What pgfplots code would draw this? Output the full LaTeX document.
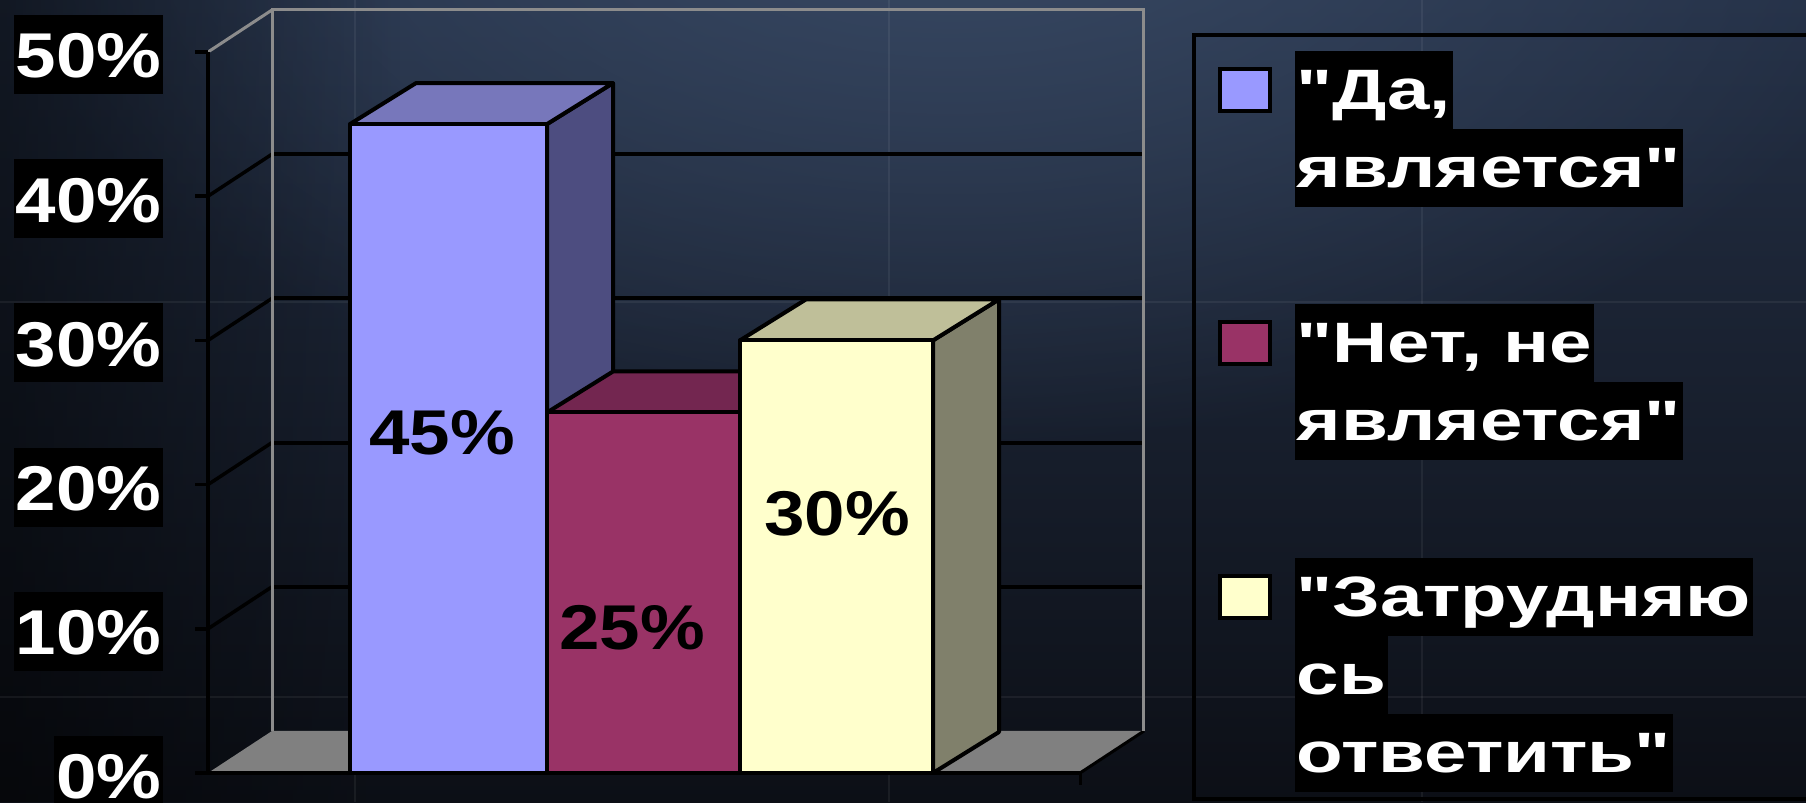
\documentclass[border=0pt]{standalone}
\usepackage{pgfplots}
\pgfplotsset{compat=1.18}
\usepackage{fontspec}
\setmainfont{Liberation Sans}
\newfontfamily\tickfont{Liberation Sans Bold}[FakeStretch=1.15]
\newfontfamily\legfont{Liberation Sans Bold}[FakeStretch=1.34]
\usetikzlibrary{fadings}
\tikzfading[name=myfade, inner color=transparent!0, outer color=transparent!100]
\definecolor{bgtop}{HTML}{243046}
\definecolor{bgbot}{HTML}{0C0F16}
\definecolor{hl}{HTML}{3A4B66}
\definecolor{aF}{HTML}{9999FF}\definecolor{aT}{HTML}{7777BB}\definecolor{aS}{HTML}{4D4D80}
\definecolor{bF}{HTML}{993366}\definecolor{bT}{HTML}{732650}\definecolor{bS}{HTML}{4D1A33}
\definecolor{cF}{HTML}{FFFFCC}\definecolor{cT}{HTML}{BFBF99}\definecolor{cS}{HTML}{80806B}
\definecolor{wallgrey}{HTML}{8C8C8C}
\definecolor{floorgrey}{HTML}{808080}
\tikzset{
  ticklab/.style={anchor=east, fill=black, text=white, font=\tickfont\fontsize{18}{20}\selectfont,
    inner xsep=0.2mm, inner ysep=0pt, text height=6.3mm, text depth=1.6mm},
  vallab/.style={text=black, font=\tickfont\fontsize{18}{20}\selectfont},
  legline/.style={anchor=north west, fill=black, text=white, font=\legfont\fontsize{16.2}{18}\selectfont,
    inner xsep=0.2mm, inner ysep=0pt, text height=5.9mm, text depth=1.9mm},
  legbox/.style={draw=black, line width=0.35mm}
}
\begin{document}
\begin{tikzpicture}
% ---------- slide background ----------
\begin{scope}[x=0.1mm,y=-0.1mm,shift={(0,80.2mm)}]
  \shade[top color=bgtop, bottom color=bgbot] (0,0) rectangle (1806,802);
  \fill[hl, path fading=myfade] (950,-150) ellipse (1000 and 600);
  \fill[black, opacity=0.5, path fading=east] (0,0) rectangle (400,802);
  \foreach \gx in {355,889,1422} \draw[white, opacity=0.06, line width=0.2mm] (\gx,0) -- (\gx,802);
  \foreach \gy in {302,697} \draw[white, opacity=0.06, line width=0.2mm] (0,\gy) -- (1806,\gy);
\end{scope}
% ---------- chart ----------
\begin{axis}[at={(0,0)}, anchor=south west, scale only axis,
  width=180.6mm, height=80.2mm,
  xmin=0, xmax=1806, ymin=-2.011, ymax=53.606,
  hide axis, clip=false,
  every axis plot/.append style={mark=none}]
  % floor
  \addplot[fill=floorgrey, draw=none] coordinates {(208,0) (1080,0) (1144,2.913) (272,2.913)} -- cycle;
  \draw[black, line width=0.3mm] (axis cs:1080,0) -- (axis cs:1144,2.913);
  % back wall grid lines
  \draw[black, line width=0.4mm] (axis cs:272,12.913) -- (axis cs:1143,12.913);
  \draw[black, line width=0.4mm] (axis cs:272,22.913) -- (axis cs:1143,22.913);
  \draw[black, line width=0.4mm] (axis cs:272,32.913) -- (axis cs:1143,32.913);
  \draw[black, line width=0.4mm] (axis cs:272,42.913) -- (axis cs:1143,42.913);
  % side wall grid lines
  \draw[black, line width=0.35mm] (axis cs:208,10) -- (axis cs:272,12.913);
  \draw[black, line width=0.35mm] (axis cs:208,20) -- (axis cs:272,22.913);
  \draw[black, line width=0.35mm] (axis cs:208,30) -- (axis cs:272,32.913);
  \draw[black, line width=0.35mm] (axis cs:208,40) -- (axis cs:272,42.913);
  % wall edges
  \draw[wallgrey, line width=0.3mm] (axis cs:272,2.913) -- (axis cs:272,52.913) -- (axis cs:1143,52.913) -- (axis cs:1143,2.913);
  \draw[wallgrey, line width=0.3mm] (axis cs:208,50) -- (axis cs:272,52.913);
  % bar 1: "Да, является" = 45
  \addplot[fill=aS, draw=black, line width=0.4mm, line join=round] coordinates {(547,0) (613,2.843) (613,47.843) (547,45)} -- cycle;
  \addplot[fill=aT, draw=black, line width=0.4mm, line join=round] coordinates {(350,45) (547,45) (613,47.843) (416,47.843)} -- cycle;
  \addplot[fill=aF, draw=black, line width=0.4mm, line join=round] coordinates {(350,0) (547,0) (547,45) (350,45)} -- cycle;
  % bar 2: "Нет, не является" = 25
  \addplot[fill=bS, draw=black, line width=0.4mm, line join=round] coordinates {(740,0) (806,2.843) (806,27.843) (740,25)} -- cycle;
  \addplot[fill=bT, draw=black, line width=0.4mm, line join=round] coordinates {(547,25) (740,25) (806,27.843) (613,27.843)} -- cycle;
  \addplot[fill=bF, draw=black, line width=0.4mm, line join=round] coordinates {(547,0) (740,0) (740,25) (547,25)} -- cycle;
  % bar 3: "Затрудняюсь ответить" = 30
  \addplot[fill=cS, draw=black, line width=0.4mm, line join=round] coordinates {(933,0) (999,2.843) (999,32.843) (933,30)} -- cycle;
  \addplot[fill=cT, draw=black, line width=0.4mm, line join=round] coordinates {(740,30) (933,30) (999,32.843) (806,32.843)} -- cycle;
  \addplot[fill=cF, draw=black, line width=0.4mm, line join=round] coordinates {(740,0) (933,0) (933,30) (740,30)} -- cycle;
  % axes
  \draw[black, line width=0.4mm] (axis cs:208,0) -- (axis cs:1080,0);
  \draw[black, line width=0.3mm] (axis cs:1080,0) -- (axis cs:1080,-0.83);
  \draw[black, line width=0.4mm] (axis cs:208,0) -- (axis cs:208,50);
  \draw[black, line width=0.35mm] (axis cs:195,0) -- (axis cs:208,0);
  \draw[black, line width=0.35mm] (axis cs:195,10) -- (axis cs:208,10);
  \draw[black, line width=0.35mm] (axis cs:195,20) -- (axis cs:208,20);
  \draw[black, line width=0.35mm] (axis cs:195,30) -- (axis cs:208,30);
  \draw[black, line width=0.35mm] (axis cs:195,40) -- (axis cs:208,40);
  \draw[black, line width=0.35mm] (axis cs:195,50) -- (axis cs:208,50);
  % tick labels
  \node[ticklab] at (axis cs:164,-0.17) {0\%};
  \node[ticklab] at (axis cs:164,9.83) {10\%};
  \node[ticklab] at (axis cs:164,19.83) {20\%};
  \node[ticklab] at (axis cs:164,29.83) {30\%};
  \node[ticklab] at (axis cs:164,39.83) {40\%};
  \node[ticklab] at (axis cs:164,49.83) {50\%};
  % value labels
  \node[vallab] at (axis cs:442,23.6) {45\%};
  \node[vallab] at (axis cs:632,10.05) {25\%};
  \node[vallab] at (axis cs:837,17.96) {30\%};
\end{axis}
% ---------- legend ----------
\begin{scope}[x=0.1mm,y=-0.1mm,shift={(0,80.2mm)}]
  \draw[black, line width=0.35mm] (1194,35) rectangle (1850,799);
  \filldraw[fill=aF, legbox] (1220,69) rectangle (1270,111);
  \node[legline] at (1294,50) {"Да,};
  \node[legline] at (1294,128) {является"};
  \filldraw[fill=bF, legbox] (1220,322) rectangle (1270,364);
  \node[legline] at (1294,303) {"Нет, не};
  \node[legline] at (1294,381) {является"};
  \filldraw[fill=cF, legbox] (1220,576) rectangle (1270,618);
  \node[legline] at (1294,557) {"Затрудняю};
  \node[legline] at (1294,635) {сь};
  \node[legline] at (1294,713) {ответить"};
\end{scope}
\pgfresetboundingbox
\path[use as bounding box] (0,0) rectangle (180.6mm,80.2mm);
\end{tikzpicture}
\end{document}
